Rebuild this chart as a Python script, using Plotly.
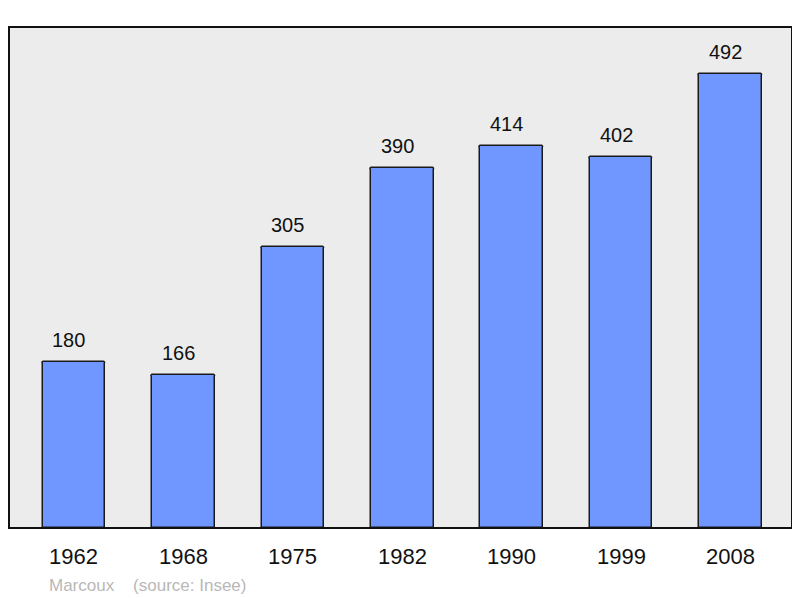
import plotly.graph_objects as go

years = ["1962", "1968", "1975", "1982", "1990", "1999", "2008"]
population = [180, 166, 305, 390, 414, 402, 492]
footer_text = "Marcoux    (source: Insee)"

FONT = "Liberation Sans, Arial, sans-serif"
idx = list(range(len(years)))

fig = go.Figure()
fig.add_trace(go.Bar(
    x=idx, y=population, width=0.572,
    marker=dict(color="#7096ff", line=dict(color="#1a1a1a", width=1.5), cornerradius=2),
    hoverinfo="skip",
))

annotations = []
for i, (yr, v) in enumerate(zip(years, population)):
    annotations.append(dict(x=i, y=v, xref="x", yref="y", text=str(v), showarrow=False,
                            yanchor="middle", yshift=22, xshift=-5,
                            font=dict(family=FONT, size=20, color="#111111")))
    annotations.append(dict(x=i, y=0, xref="x", yref="paper", text=yr, showarrow=False,
                            yanchor="middle", yshift=-28,
                            font=dict(family=FONT, size=22, color="#111111")))
annotations.append(dict(x=0, y=0, xref="paper", yref="paper", text=footer_text,
                        showarrow=False, xanchor="left", yanchor="middle",
                        xshift=38, yshift=-57,
                        font=dict(family=FONT, size=17, color="#b8b8b8")))

# page body has an 8px margin, so the figure is sized/offset to compensate
fig.update_layout(
    width=792, height=590,
    margin=dict(l=1, r=8, t=19, b=70),
    paper_bgcolor="white",
    plot_bgcolor="#ececec",
    showlegend=False,
    bargap=0,
    xaxis=dict(range=[-0.594, 6.562], showticklabels=False, showgrid=False,
               zeroline=False, ticks="", fixedrange=True),
    yaxis=dict(range=[0, 543], showticklabels=False, showgrid=False,
               zeroline=False, ticks="", fixedrange=True),
    annotations=annotations,
    shapes=[dict(type="rect", xref="paper", yref="paper", x0=0, y0=0, x1=1, y1=1,
                 line=dict(color="#111111", width=2), layer="above")],
)

fig.write_html("out.html")
